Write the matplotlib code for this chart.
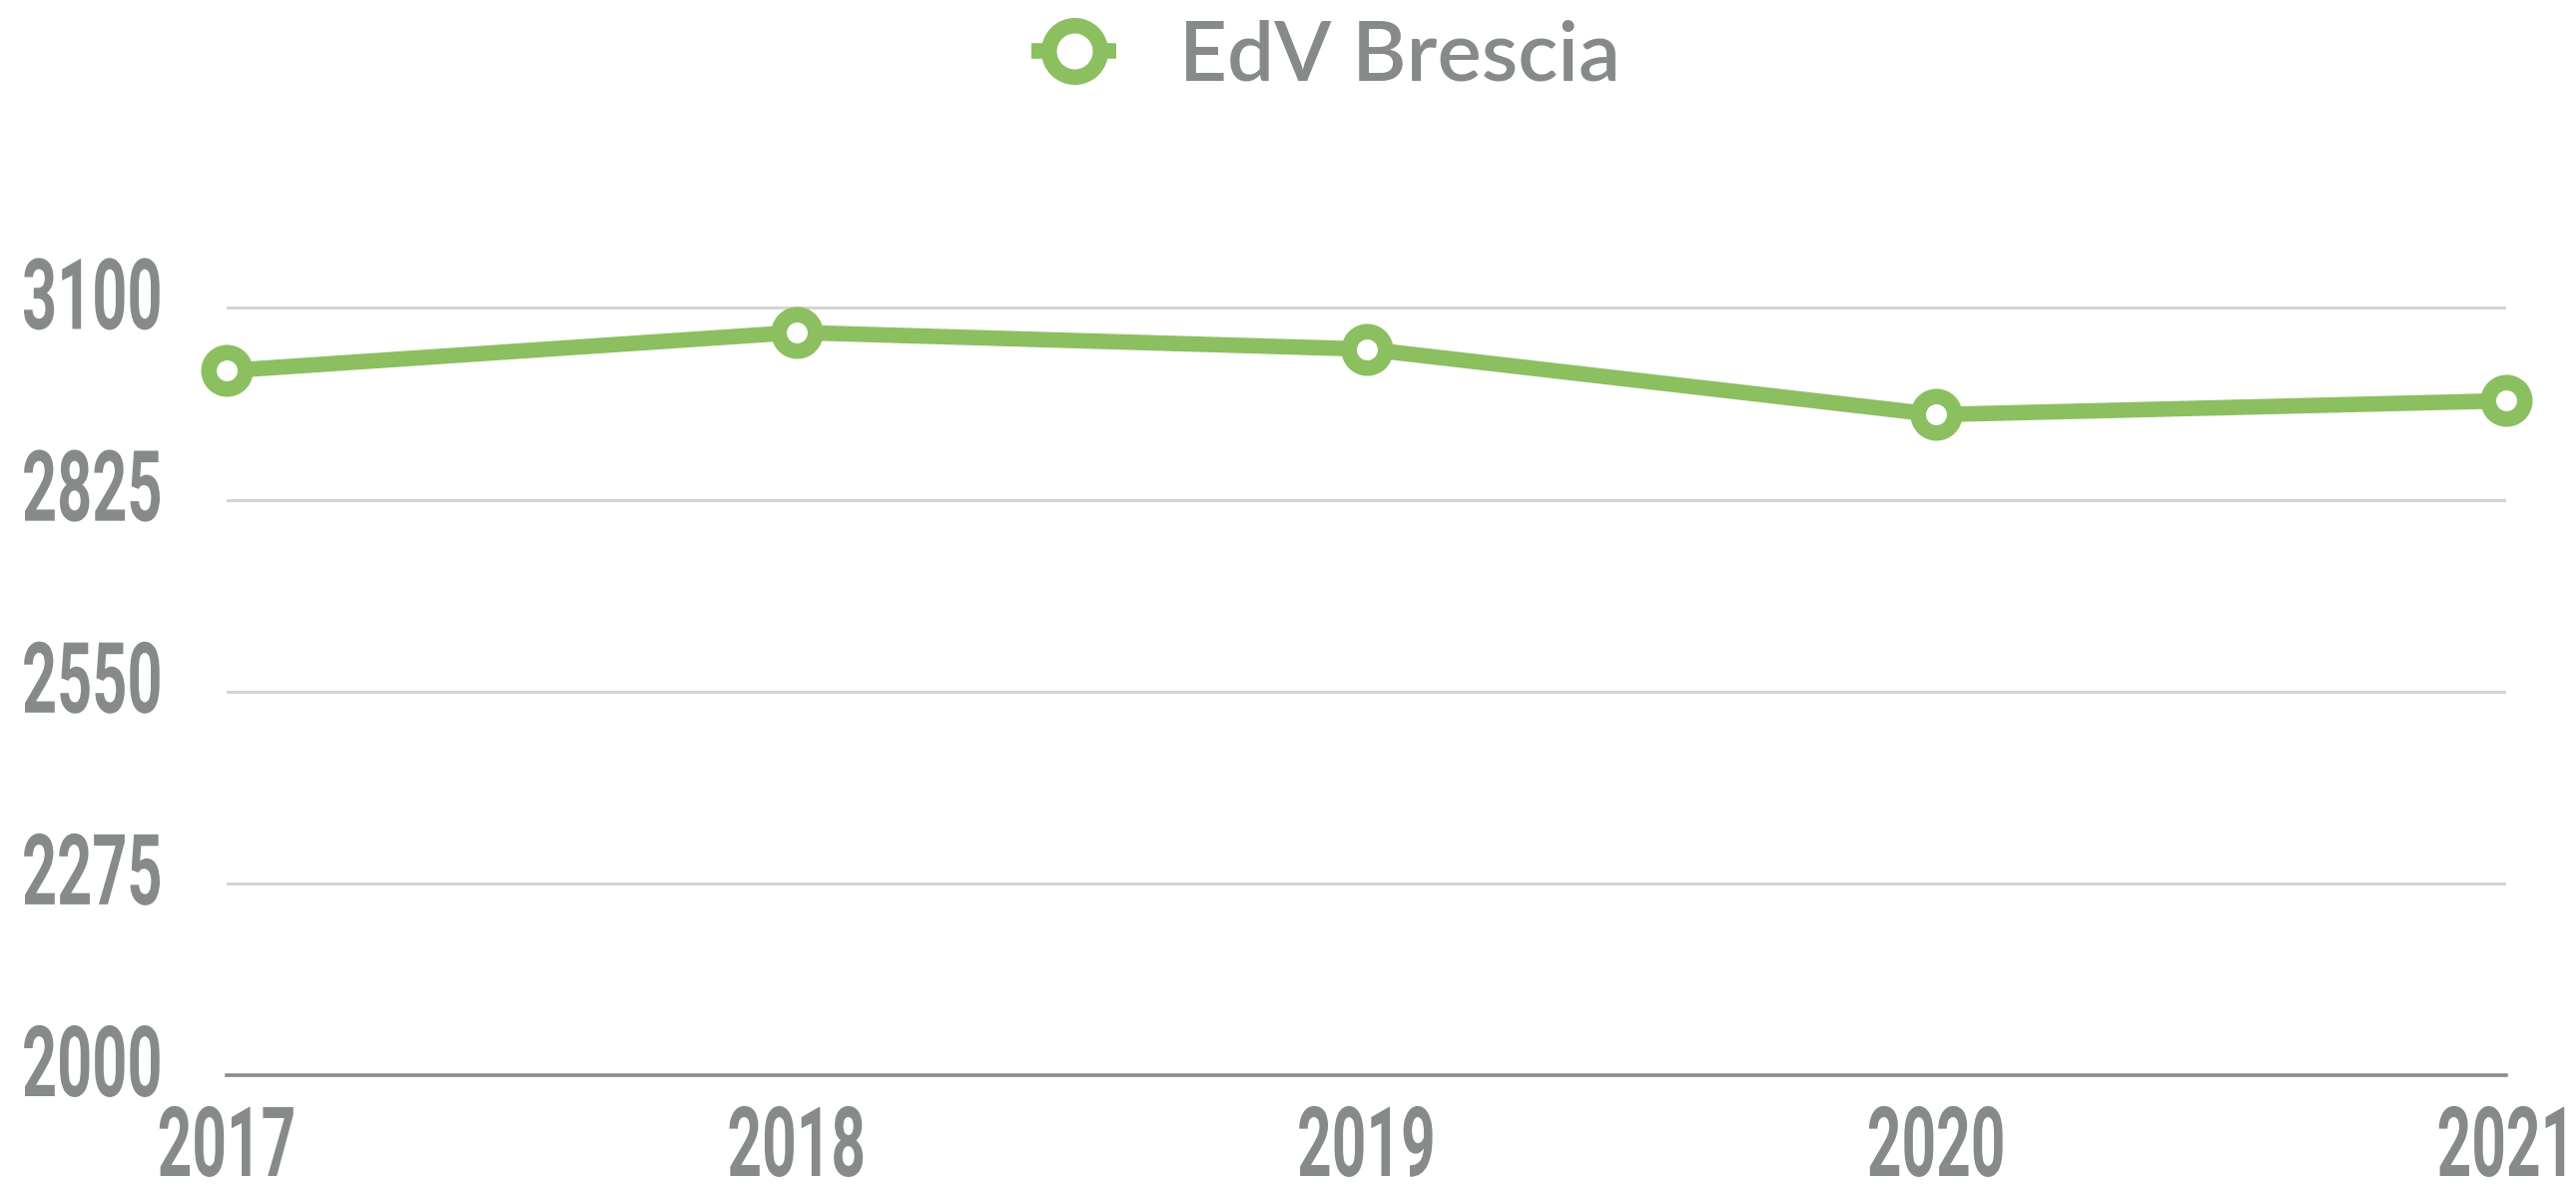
import matplotlib
matplotlib.use('Agg')
import matplotlib.pyplot as plt
from matplotlib.patheffects import AbstractPathEffect
from matplotlib.transforms import Affine2D, offset_copy

# ---- data ----
years = [2017, 2018, 2019, 2020, 2021]
values = [3010, 3065, 3041, 2947, 2967]
series_name = "EdV Brescia"
y_ticks = [2000, 2275, 2550, 2825, 3100]
y_tick_labels = ["2000", "2275", "2550", "2825", "3100"]
x_tick_labels = ["2017", "2018", "2019", "2020", "2021"]

GREEN = '#8bbf60'
GRAY = '#868a8a'
GRID = '#d4d4d4'
AXIS = '#8a8c8c'


class TallGlyphs(AbstractPathEffect):
    """Stretch glyph outlines vertically about the baseline, giving a
    condensed-face look while keeping the Text artist and its box."""
    def __init__(self, sy=1.6):
        super().__init__()
        self.sy = sy

    def draw_path(self, renderer, gc, tpath, affine, rgbFace=None):
        t = Affine2D().scale(1, self.sy) + affine
        renderer.draw_path(gc, tpath, t, rgbFace)


W, H, DPI = 2580, 1192, 100
fig = plt.figure(figsize=(W / DPI, H / DPI), dpi=DPI)

ax_left, ax_right = 227, 2510
y_bottom_px = 1077
px_per_unit = (1077 - 308.5) / (3100 - 2000)
ytop_val = 3200
ax_top_px = y_bottom_px - (ytop_val - 2000) * px_per_unit
ax = fig.add_axes([ax_left / W, (H - y_bottom_px) / H,
                   (ax_right - ax_left) / W, (y_bottom_px - ax_top_px) / H])
ax.set_xlim(years[0], years[-1])
ax.set_ylim(2000, ytop_val)

ax.set_yticks(y_ticks)
ax.set_xticks(years)
ax.yaxis.grid(True, color=GRID, lw=2.3)
ax.xaxis.grid(False)
ax.tick_params(length=0, labelleft=False, labelbottom=False)
for s in ['top', 'right', 'left']:
    ax.spines[s].set_visible(False)
ax.spines['bottom'].set_color(AXIS)
ax.spines['bottom'].set_linewidth(2.6)
ax.spines['bottom'].set_zorder(3)
ax.set_axisbelow(True)

line, = ax.plot(years, values, color=GREEN, lw=11.2, marker='o', ms=26.3,
                mfc='white', mec=GREEN, mew=11.2, clip_on=False, zorder=5,
                label=series_name, solid_capstyle='butt')

tick_font = dict(family=['Roboto', 'DejaVu Sans'], fontweight='bold',
                 color=GRAY)
STRETCH = 1.61

ytrans = offset_copy(ax.get_yaxis_transform(), fig=fig, x=0, y=-21, units='dots')
x_lab = (22 - ax_left) / (ax_right - ax_left)
for v, lab in zip(y_ticks, y_tick_labels):
    ax.text(x_lab, v, lab, transform=ytrans, ha='left', va='baseline',
            fontsize=71 / STRETCH, path_effects=[TallGlyphs(STRETCH)],
            clip_on=False, **tick_font)

xtrans = offset_copy(ax.get_xaxis_transform(), fig=fig, x=0, y=-101, units='dots')
for yr, lab in zip(years, x_tick_labels):
    ax.text(yr, 0, lab, transform=xtrans, ha='center', va='baseline',
            fontsize=70 / STRETCH, path_effects=[TallGlyphs(STRETCH)],
            clip_on=False, **tick_font)

leg = fig.legend(handles=[line], loc='center left',
                 bbox_to_anchor=(1033 / W, 1 - 57 / H),
                 bbox_transform=fig.transFigure, frameon=False,
                 prop={'family': ['Lato', 'DejaVu Sans'], 'size': 60,
                       'weight': 'semibold'},
                 handlelength=1.02, handletextpad=0.76, markerscale=1.41,
                 borderpad=0, borderaxespad=0)
for t in leg.get_texts():
    t.set_color(GRAY)

fig.savefig('out.png', dpi=DPI, facecolor='white')
